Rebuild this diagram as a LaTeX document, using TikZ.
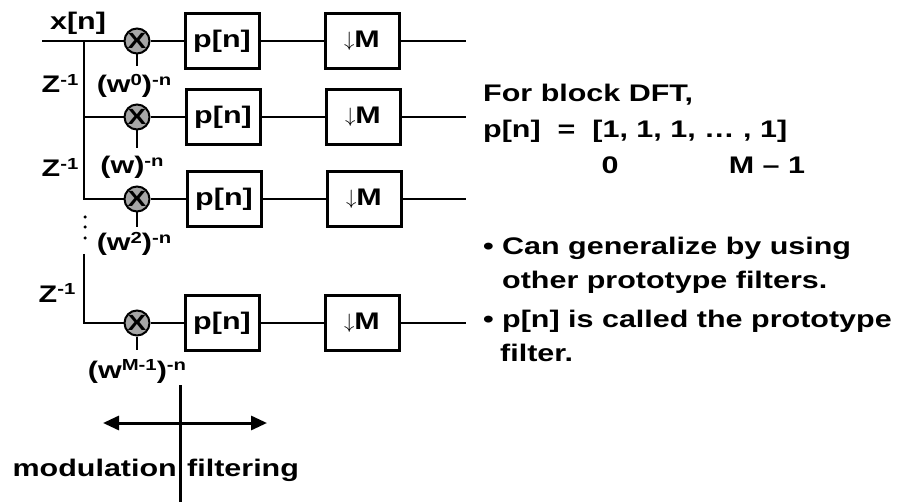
\documentclass[tikz,border=0pt]{standalone}
\usepackage{fontspec}
\setmainfont{Liberation Sans}[FakeStretch=1.27]
\usetikzlibrary{arrows.meta, positioning}

\newcommand{\upidx}[1]{\raisebox{7.5pt}{\fontsize{16}{16}\selectfont\bfseries #1}}
\newcommand{\decim}{\raisebox{1.5pt}{\fontsize{21}{21}\selectfont$\downarrow$}M}

\begin{document}
\begin{tikzpicture}[
    x=1pt, y=-1pt,
    node distance=63pt,
    every node/.style={font=\fontsize{24}{28}\selectfont\bfseries},
    filtbox/.style={draw, line width=3pt, minimum width=74pt, minimum height=55pt, inner sep=0pt},
    mixer/.style={circle, draw, line width=2pt, fill=gray!70, minimum size=25pt, inner sep=0pt, font=\fontsize{22}{22}\selectfont\bfseries},
    lab/.style={inner sep=0pt},
    dot/.style={circle, fill, inner sep=0pt, minimum size=3.5pt},
    wire/.style={line width=2.5pt},
    bigarrow/.style={line width=3pt, {Triangle[length=16pt,width=14pt]}-{Triangle[length=16pt,width=14pt]}},
  ]
  \useasboundingbox (0,0) rectangle (901,502);

  % --- Input and delay chain ---
  \coordinate (xin) at (42,41);
  \node[lab, anchor=base] (xlab) at (78,30) {x[n]};
  \coordinate (tapA) at (84,41);
  \coordinate (tapB) at (84,117);
  \coordinate (tapC) at (84,199);
  \coordinate (tapTop) at (84,254);
  \coordinate (tapD) at (84,323);
  \node[dot] (dotA) at (85,217) {};
  \node[dot] (dotB) at (85,227) {};
  \node[dot] (dotC) at (85,238) {};

  \node[lab, anchor=base] (zA) at (60,93) {Z\upidx{-1}};
  \node[lab, anchor=base] (zB) at (60,177) {Z\upidx{-1}};
  \node[lab, anchor=base] (zC) at (57,302) {Z\upidx{-1}};

  % --- Modulators ---
  \node[mixer] (mulA) at (137,41) {X};
  \node[mixer] (mulB) at (137,117) {X};
  \node[mixer] (mulC) at (137,199) {X};
  \node[mixer] (mulD) at (137,323) {X};
  \coordinate (stemA) at (137,66);
  \coordinate (stemB) at (137,148);
  \coordinate (stemC) at (137,227);
  \coordinate (stemD) at (137,350);
  \node[lab, anchor=base] (wA) at (134,93) {(w\upidx{0})\upidx{-n}};
  \node[lab, anchor=base] (wB) at (132,174) {(w)\upidx{-n}};
  \node[lab, anchor=base] (wC) at (134,251) {(w\upidx{2})\upidx{-n}};
  \node[lab, anchor=base] (wD) at (137,378) {(w\upidx{M-1})\upidx{-n}};

  % --- Prototype filters ---
  \node[filtbox] (pA) at (222,41) {p[n]};
  \node[filtbox] (pB) at (223,117) {p[n]};
  \node[filtbox] (pC) at (224,199) {p[n]};
  \node[filtbox] (pD) at (222,323) {p[n]};

  % --- Decimators ---
  \node[filtbox, right=of pA] (dA) {\decim};
  \node[filtbox, right=of pB] (dB) {\decim};
  \node[filtbox, right=of pC] (dC) {\decim};
  \node[filtbox, right=of pD] (dD) {\decim};
  \coordinate (outA) at (466,41);
  \coordinate (outB) at (466,117);
  \coordinate (outC) at (466,199);
  \coordinate (outD) at (466,323);

  % --- Wires ---
  \draw[wire] (xin) -- (mulA);
  \draw[wire] (tapA) -- (tapC) -- (mulC);
  \draw[wire] (tapB) -- (mulB);
  \draw[wire] (tapTop) -- (tapD) -- (mulD);
  \draw[wire] (mulA) -- (stemA);
  \draw[wire] (mulB) -- (stemB);
  \draw[wire] (mulC) -- (stemC);
  \draw[wire] (mulD) -- (stemD);
  \draw[wire] (mulA) -- (pA);
  \draw[wire] (mulB) -- (pB);
  \draw[wire] (mulC) -- (pC);
  \draw[wire] (mulD) -- (pD);
  \draw[wire] (pA) -- (dA);
  \draw[wire] (pB) -- (dB);
  \draw[wire] (pC) -- (dC);
  \draw[wire] (pD) -- (dD);
  \draw[wire] (dA) -- (outA);
  \draw[wire] (dB) -- (outB);
  \draw[wire] (dC) -- (outC);
  \draw[wire] (dD) -- (outD);

  % --- Block DFT note ---
  \node[lab, anchor=base west] (dftA) at (483,102) {For block DFT,};
  \node[lab, anchor=base west] (dftB) at (483,138) {p[n]\ \ =\ \ [1, 1, 1, … , 1]};
  \node[lab, anchor=base] (idxA) at (610,174) {0};
  \node[lab, anchor=base] (idxB) at (767,174) {M – 1};

  % --- Bullets ---
  \node[lab, anchor=base west] (bulA) at (483,255) {•};
  \node[lab, anchor=base west] (genA) at (502,255) {Can generalize by using};
  \node[lab, anchor=base west] (genB) at (502,288) {other prototype filters.};
  \node[lab, anchor=base west] (bulB) at (483,327) {•};
  \node[lab, anchor=base west] (protoA) at (502,327) {p[n] is called the prototype};
  \node[lab, anchor=base west] (protoB) at (500,361) {filter.};

  % --- Modulation / filtering split ---
  \coordinate (divTop) at (180,385);
  \coordinate (divBot) at (180,502);
  \draw[line width=3pt] (divTop) -- (divBot);
  \coordinate (arrL) at (103,423);
  \coordinate (arrR) at (267,423);
  \draw[bigarrow] (arrL) -- (arrR);
  \node[lab, anchor=base east] (modl) at (177,476) {modulation};
  \node[lab, anchor=base west] (filt) at (187,476) {filtering};

\end{tikzpicture}
\end{document}
